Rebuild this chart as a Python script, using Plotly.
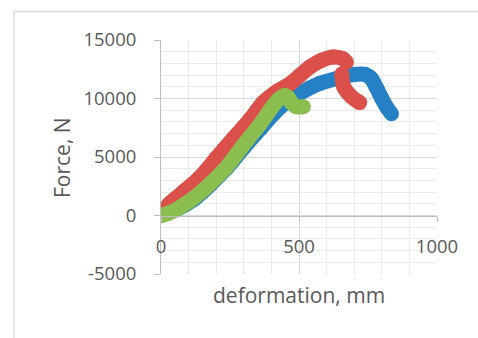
import plotly.graph_objects as go

# Force–deformation curves for three specimens
blue_x = [0, 60, 120, 180, 240, 300, 360, 410, 450, 504, 577, 650, 700, 740, 762, 782, 800, 818, 835]
blue_y = [0, 550, 1400, 2650, 4100, 5800, 7400, 8750, 9600, 10450, 11300, 11800, 12050, 12050, 11700, 10850, 10000, 9250, 8700]

red_x = [0, 30, 80, 140, 200, 262, 322, 370, 420, 470, 500, 540, 580, 625, 660, 672, None, 655, 662, 690, 720]
red_y = [0, 1000, 2000, 3250, 4900, 6600, 8200, 9650, 10600, 11300, 11900, 12700, 13250, 13550, 13400, 13100, None, 12100, 11000, 10150, 9650]

green_x = [0, 25, 56, 80, 116, 177, 238, 298, 359, 407, 430, 448, 462, 472, 490, 516]
green_y = [0, 180, 500, 870, 1450, 2700, 4150, 6000, 7800, 9400, 10000, 10250, 10050, 9650, 9300, 9300]

x_ticks = [0, 500, 1000]
y_ticks = [-5000, 0, 5000, 10000, 15000]

FONT = "Open Sans"
TEXT = "#595959"
W = 15

fig = go.Figure()
for xs, ys, col in [(blue_x, blue_y, "#2581C4"),
                    (red_x, red_y, "#DB504A"),
                    (green_x, green_y, "#8CBD4F")]:
    fig.add_trace(go.Scatter(
        x=xs, y=ys, mode="lines+markers", connectgaps=False,
        line=dict(color=col, width=W, shape="spline", smoothing=0.8),
        marker=dict(color=col, size=W, line=dict(width=0)),
        hoverinfo="skip"))

fig.update_layout(
    width=478, height=338,
    margin=dict(l=161, r=41, t=40, b=64),
    paper_bgcolor="white", plot_bgcolor="white",
    showlegend=False,
    font=dict(family=FONT, size=18.5, color=TEXT),
    xaxis=dict(
        range=[0, 1000], tickvals=x_ticks, ticktext=[str(v) for v in x_ticks],
        anchor="free", position=0.25,
        showline=True, linecolor="#bfbfbf", linewidth=1,
        ticks="outside", ticklen=5, tickcolor="#bfbfbf",
        ticklabelstandoff=9,
        showgrid=True, gridcolor="#d9d9d9", gridwidth=1,
        minor=dict(tickvals=list(range(100, 1000, 100)), showgrid=True,
                   gridcolor="#ebebeb", gridwidth=1),
        zeroline=False, fixedrange=True,
        tickfont=dict(family=FONT, size=18.5, color=TEXT),
    ),
    yaxis=dict(
        range=[-5000, 15000], tickvals=y_ticks, ticktext=[str(v) for v in y_ticks],
        showline=True, linecolor="#bfbfbf", linewidth=1,
        ticks="outside", ticklen=6, tickcolor="#bfbfbf",
        ticklabelstandoff=14,
        showgrid=True, gridcolor="#d9d9d9", gridwidth=1,
        minor=dict(tickvals=list(range(-4000, 15000, 1000)), showgrid=True,
                   gridcolor="#ebebeb", gridwidth=1),
        zeroline=False, fixedrange=True,
        tickfont=dict(family=FONT, size=18.5, color=TEXT),
    ),
    annotations=[
        dict(text="deformation, mm", xref="paper", yref="paper",
             x=0.5, y=-0.0897, xanchor="center", yanchor="middle",
             showarrow=False, font=dict(family=FONT, size=21, color=TEXT)),
        dict(text="Force, N", xref="paper", yref="paper",
             x=-0.3587, y=0.5, xanchor="center", yanchor="middle",
             textangle=-90, showarrow=False,
             font=dict(family=FONT, size=21, color=TEXT)),
    ],
    shapes=[
        dict(type="rect", xref="paper", yref="paper",
             x0=-0.5326, y0=-0.3, x1=1.2, y1=1.1218,
             line=dict(color="#d9d9d9", width=1.3), layer="below"),
    ],
)

fig.write_html("out.html")
